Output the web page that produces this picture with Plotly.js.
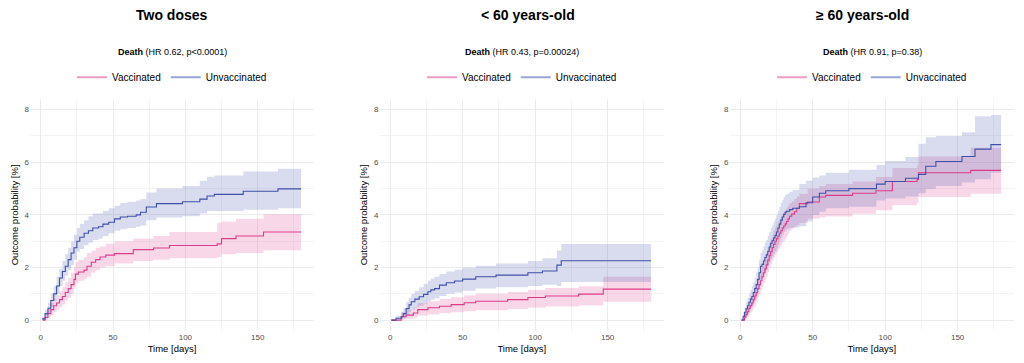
<!DOCTYPE html>
<html>
<head>
<meta charset="utf-8">
<script src="https://cdn.plot.ly/plotly-3.0.1.min.js"></script>
<style>html,body{margin:0;padding:0;background:#fff;}#chart{width:1024px;height:363px;}</style>
</head>
<body>
<div id="chart"></div>
<script>
// ---------- Data ----------
var panelTitles = ["Two doses", "&lt; 60 years-old", "≥ 60 years-old"];
var panelSubtitles = ["(HR 0.62, p&lt;0.0001)", "(HR 0.43, p=0.00024)", "(HR 0.91, p=0.38)"];
var groupNames = ["Vaccinated", "Unvaccinated"];
var xTickVals = [0, 50, 100, 150];
var yTickVals = [0, 2, 4, 6, 8];

// Panel 1: Two doses
var p1_unvax_t   = [1, 3, 5, 7, 9, 11, 13, 15, 17, 19, 21, 23, 25, 27, 30, 33, 36, 40, 43, 47, 51, 55, 60, 66, 69, 73, 80, 98, 110, 115, 120, 140, 164, 180];
var p1_unvax_est = [0.05, 0.25, 0.45, 0.75, 1.0, 1.3, 1.6, 1.85, 2.05, 2.3, 2.55, 2.75, 3.0, 3.15, 3.3, 3.4, 3.5, 3.55, 3.65, 3.72, 3.85, 3.92, 3.95, 4.0, 4.1, 4.3, 4.43, 4.5, 4.6, 4.72, 4.78, 4.9, 4.99, 4.99];
var p1_unvax_up  = [0.1, 0.4, 0.65, 1.0, 1.3, 1.65, 1.95, 2.25, 2.5, 2.75, 3.0, 3.25, 3.5, 3.65, 3.8, 3.95, 4.05, 4.05, 4.15, 4.25, 4.35, 4.45, 4.5, 4.55, 4.6, 4.85, 5.0, 5.1, 5.3, 5.45, 5.5, 5.65, 5.75, 5.75];
var p1_unvax_lo  = [0, 0.1, 0.25, 0.5, 0.75, 1.0, 1.3, 1.5, 1.7, 1.9, 2.1, 2.3, 2.6, 2.7, 2.85, 2.95, 3.05, 3.1, 3.2, 3.3, 3.4, 3.45, 3.5, 3.55, 3.6, 3.8, 3.9, 3.95, 4.05, 4.15, 4.15, 4.2, 4.25, 4.25];

var p1_vax_t   = [1.5, 3, 5, 7, 9, 11, 13, 15, 17, 19, 21, 23, 24, 26, 30, 32, 35, 38, 41, 45, 51, 64, 78, 89, 122, 125, 135, 154, 180];
var p1_vax_est = [0, 0.1, 0.25, 0.4, 0.55, 0.65, 0.78, 0.9, 1.05, 1.2, 1.35, 1.55, 1.75, 1.83, 1.9, 2.05, 2.2, 2.3, 2.4, 2.47, 2.53, 2.68, 2.74, 2.84, 2.9, 3.1, 3.2, 3.35, 3.35];
var p1_vax_up  = [0.05, 0.25, 0.45, 0.65, 0.8, 0.95, 1.1, 1.25, 1.45, 1.6, 1.8, 2.0, 2.2, 2.3, 2.4, 2.55, 2.65, 2.75, 2.8, 2.9, 3.0, 3.1, 3.2, 3.35, 3.7, 3.75, 3.85, 4.02, 4.02];
var p1_vax_lo  = [0, 0, 0.1, 0.2, 0.3, 0.4, 0.5, 0.6, 0.75, 0.85, 1.0, 1.2, 1.4, 1.5, 1.55, 1.65, 1.8, 1.9, 2.0, 2.05, 2.15, 2.25, 2.3, 2.35, 2.4, 2.5, 2.55, 2.66, 2.66];

// Panel 2: < 60 years-old
var p2_unvax_t   = [0.7, 4, 7.6, 9, 11, 13, 14.5, 17, 20, 23, 26, 28, 30.6, 34, 38.7, 44.4, 50, 59, 73, 95, 105, 115, 118, 180];
var p2_unvax_est = [0, 0.07, 0.13, 0.25, 0.44, 0.58, 0.7, 0.8, 0.89, 0.98, 1.08, 1.15, 1.2, 1.33, 1.42, 1.49, 1.56, 1.65, 1.71, 1.8, 1.87, 2.09, 2.26, 2.26];
var p2_unvax_up  = [0.02, 0.17, 0.3, 0.45, 0.7, 0.85, 1.0, 1.12, 1.25, 1.38, 1.5, 1.58, 1.65, 1.75, 1.85, 1.92, 1.99, 2.07, 2.15, 2.25, 2.35, 2.65, 2.89, 2.89];
var p2_unvax_lo  = [0, 0, 0.03, 0.1, 0.2, 0.3, 0.4, 0.48, 0.55, 0.63, 0.72, 0.78, 0.82, 0.92, 1.0, 1.05, 1.12, 1.2, 1.25, 1.3, 1.35, 1.3, 1.45, 1.45];

var p2_vax_t   = [0.7, 7.6, 11, 16, 19, 26, 34, 42, 51, 59, 81, 95, 107, 130, 147, 180];
var p2_vax_est = [0, 0.13, 0.19, 0.27, 0.4, 0.47, 0.53, 0.59, 0.66, 0.72, 0.78, 0.86, 0.92, 0.99, 1.18, 1.18];
var p2_vax_up  = [0.02, 0.3, 0.4, 0.5, 0.65, 0.72, 0.8, 0.87, 0.95, 1.0, 1.07, 1.15, 1.22, 1.29, 1.65, 1.65];
var p2_vax_lo  = [0, 0.02, 0.05, 0.1, 0.18, 0.22, 0.27, 0.3, 0.34, 0.38, 0.42, 0.47, 0.52, 0.56, 0.7, 0.7];

// Panel 3: >= 60 years-old
var p3_unvax_t   = [0.7, 2, 3, 4, 5, 6, 7, 8, 9, 10, 11, 12, 13, 14, 15, 16, 17, 18, 19, 20, 21, 22, 23, 24, 25, 26, 27, 28, 29, 30, 31, 32, 34, 36.2, 40.8, 45.4, 50, 54.6, 59, 75, 94, 100, 114, 123, 128, 135, 153, 162, 173, 180];
var p3_unvax_est = [0, 0.15, 0.3, 0.43, 0.55, 0.68, 0.8, 0.9, 1.05, 1.2, 1.35, 1.55, 1.8, 2.05, 2.12, 2.25, 2.38, 2.48, 2.62, 2.78, 2.92, 3.02, 3.12, 3.22, 3.35, 3.5, 3.65, 3.8, 3.92, 4.02, 4.1, 4.14, 4.2, 4.25, 4.31, 4.46, 4.68, 4.82, 4.92, 5.0, 5.17, 5.27, 5.39, 5.54, 5.85, 6.03, 6.22, 6.5, 6.67, 6.67];
var p3_unvax_up  = [0.05, 0.3, 0.5, 0.7, 0.85, 1.0, 1.15, 1.3, 1.45, 1.6, 1.8, 2.0, 2.3, 2.55, 2.65, 2.8, 2.95, 3.05, 3.2, 3.35, 3.5, 3.62, 3.75, 3.85, 4.0, 4.15, 4.3, 4.45, 4.58, 4.68, 4.76, 4.8, 4.88, 4.95, 5.17, 5.3, 5.42, 5.5, 5.6, 5.72, 5.9, 6.05, 6.2, 6.7, 6.95, 7.0, 7.14, 7.75, 7.8, 7.8];
var p3_unvax_lo  = [0, 0.02, 0.1, 0.18, 0.28, 0.38, 0.47, 0.55, 0.66, 0.8, 0.92, 1.1, 1.3, 1.55, 1.62, 1.72, 1.82, 1.92, 2.05, 2.2, 2.32, 2.42, 2.52, 2.62, 2.72, 2.85, 3.0, 3.12, 3.25, 3.35, 3.42, 3.46, 3.5, 3.52, 3.57, 3.75, 4.0, 4.12, 4.25, 4.31, 4.55, 4.62, 4.7, 4.82, 4.98, 5.1, 5.23, 5.35, 5.6, 5.6];

var p3_vax_t   = [1.4, 3, 4, 5, 6, 7, 8, 9, 10, 11, 12, 13, 14, 15, 16, 17, 18, 19, 20, 21, 22, 23, 24, 25, 26, 27, 28, 29, 30, 31, 32, 33, 34, 35.5, 37.4, 39, 40.8, 46.6, 54.6, 59, 77.5, 93.6, 105, 122, 123, 159, 180];
var p3_vax_est = [0, 0.12, 0.22, 0.32, 0.45, 0.55, 0.65, 0.78, 0.92, 1.05, 1.2, 1.35, 1.5, 1.65, 1.8, 1.95, 2.1, 2.28, 2.45, 2.6, 2.75, 2.88, 3.0, 3.1, 3.2, 3.3, 3.4, 3.5, 3.58, 3.66, 3.75, 3.85, 3.95, 4.03, 4.12, 4.25, 4.43, 4.49, 4.68, 4.74, 4.82, 4.92, 5.27, 5.35, 5.6, 5.69, 5.69];
var p3_vax_up  = [0.03, 0.3, 0.42, 0.55, 0.7, 0.82, 0.95, 1.1, 1.25, 1.4, 1.55, 1.72, 1.88, 2.05, 2.2, 2.38, 2.55, 2.75, 2.92, 3.1, 3.25, 3.4, 3.52, 3.63, 3.75, 3.85, 3.95, 4.05, 4.13, 4.2, 4.28, 4.36, 4.45, 4.52, 4.6, 4.7, 4.8, 5.0, 5.1, 5.17, 5.27, 5.44, 5.78, 5.9, 6.22, 6.55, 6.55];
var p3_vax_lo  = [0, 0.02, 0.06, 0.12, 0.2, 0.28, 0.36, 0.46, 0.58, 0.7, 0.85, 0.98, 1.12, 1.25, 1.4, 1.52, 1.65, 1.82, 1.98, 2.12, 2.26, 2.38, 2.48, 2.58, 2.68, 2.76, 2.85, 2.95, 3.02, 3.1, 3.2, 3.3, 3.4, 3.48, 3.55, 3.62, 3.69, 3.85, 3.9, 3.94, 4.04, 4.18, 4.37, 4.45, 4.68, 4.8, 4.8];

// ---------- Styling ----------
var FONT = "Liberation Sans, Arial, Helvetica, sans-serif";
var pinkLine = "rgb(222,58,138)", blueLine = "rgb(62,80,168)";
var pinkFill = "rgba(222,58,138,0.2)", blueFill = "rgba(62,80,168,0.2)";
var pinkKey = "rgb(238,155,192)", blueKey = "rgb(152,166,214)";

var panels = [
  {vax: [p1_vax_t, p1_vax_est, p1_vax_up, p1_vax_lo], unvax: [p1_unvax_t, p1_unvax_est, p1_unvax_up, p1_unvax_lo]},
  {vax: [p2_vax_t, p2_vax_est, p2_vax_up, p2_vax_lo], unvax: [p2_unvax_t, p2_unvax_est, p2_unvax_up, p2_unvax_lo]},
  {vax: [p3_vax_t, p3_vax_est, p3_vax_up, p3_vax_lo], unvax: [p3_unvax_t, p3_unvax_est, p3_unvax_up, p3_unvax_lo]}
];

var xDomains = [[30/1024, 314/1024], [379.5/1024, 664/1024], [729.5/1024, 1014/1024]];
var yDomain = [0.089, 0.727];
var titleX = [172/1024, 528/1024, 862/1024];
var centerX = [172/1024, 522/1024, 872/1024];

var traces = [];
panels.forEach(function(p, i){
  var xa = i === 0 ? "x" : "x" + (i + 1);
  var ya = i === 0 ? "y" : "y" + (i + 1);
  var lg = i === 0 ? "legend" : "legend" + (i + 1);
  function band(d, fill){
    traces.push({x: d[0], y: d[3], xaxis: xa, yaxis: ya, mode: "lines", line: {width: 0, shape: "hv"}, showlegend: false, hoverinfo: "skip", legend: lg});
    traces.push({x: d[0], y: d[2], xaxis: xa, yaxis: ya, mode: "lines", line: {width: 0, shape: "hv"}, fill: "tonexty", fillcolor: fill, showlegend: false, hoverinfo: "skip", legend: lg});
  }
  band(p.vax, pinkFill);
  band(p.unvax, blueFill);
  traces.push({x: p.vax[0], y: p.vax[1], xaxis: xa, yaxis: ya, mode: "lines", line: {color: pinkLine, width: 1.1, shape: "hv"}, showlegend: false, hoverinfo: "skip", legend: lg});
  traces.push({x: p.unvax[0], y: p.unvax[1], xaxis: xa, yaxis: ya, mode: "lines", line: {color: blueLine, width: 1.1, shape: "hv"}, showlegend: false, hoverinfo: "skip", legend: lg});
  // legend keys
  traces.push({x: [null], y: [null], xaxis: xa, yaxis: ya, mode: "lines", name: groupNames[0], line: {color: pinkKey, width: 2}, legend: lg, showlegend: true});
  traces.push({x: [null], y: [null], xaxis: xa, yaxis: ya, mode: "lines", name: groupNames[1], line: {color: blueKey, width: 2}, legend: lg, showlegend: true});
});

var layout = {
  width: 1024, height: 363,
  margin: {l: 0, r: 0, t: 0, b: 0},
  paper_bgcolor: "#ffffff", plot_bgcolor: "#ffffff",
  font: {family: FONT, color: "#000"},
  annotations: [],
  showlegend: true
};

for (var i = 0; i < 3; i++) {
  var sx = i === 0 ? "" : String(i + 1);
  layout["xaxis" + sx] = {
    domain: xDomains[i], anchor: "y" + sx, range: [-7.4, 188.9],
    tickvals: xTickVals, ticks: "", showline: false, zeroline: false,
    gridcolor: "#EBEBEB", gridwidth: 1,
    minor: {dtick: 25, tick0: 25, showgrid: true, gridcolor: "#F4F4F4", gridwidth: 1},
    tickfont: {family: FONT, size: 8, color: "#4D4D4D"},
    title: {text: "Time [days]", font: {family: FONT, size: 9.5, color: "#000"}, standoff: 4},
    fixedrange: true
  };
  layout["yaxis" + sx] = {
    domain: yDomain, anchor: "x" + sx, range: [-0.4, 8.4],
    tickvals: yTickVals, ticks: "", showline: false, zeroline: false,
    gridcolor: "#EBEBEB", gridwidth: 1,
    minor: {dtick: 2, tick0: 1, showgrid: true, gridcolor: "#F4F4F4", gridwidth: 1},
    tickfont: {family: FONT, size: 8, color: "#4D4D4D"},
    title: {text: "Outcome probability [%]", font: {family: FONT, size: 9.5, color: "#000"}, standoff: 4},
    fixedrange: true
  };
  var lg = i === 0 ? "legend" : "legend" + (i + 1);
  layout[lg] = {
    orientation: "h", x: centerX[i], xanchor: "center", y: (363 - 77.3) / 363, yanchor: "middle",
    font: {family: FONT, size: 10, color: "#000"}, bgcolor: "rgba(0,0,0,0)", itemwidth: 30,
    traceorder: "normal", tracegroupgap: 0
  };
  layout.annotations.push({
    text: "<b>" + panelTitles[i] + "</b>", xref: "paper", yref: "paper",
    x: titleX[i], y: (363 - 15) / 363, xanchor: "center", yanchor: "middle", showarrow: false,
    font: {family: FONT, size: 14, color: "#000"}
  });
  layout.annotations.push({
    text: "<b>Death</b> " + panelSubtitles[i], xref: "paper", yref: "paper",
    x: centerX[i], y: (363 - 52.3) / 363, xanchor: "center", yanchor: "middle", showarrow: false,
    font: {family: FONT, size: 9, color: "#000"}
  });
}

Plotly.newPlot("chart", traces, layout, {displayModeBar: false, staticPlot: true});
</script>
</body>
</html>
